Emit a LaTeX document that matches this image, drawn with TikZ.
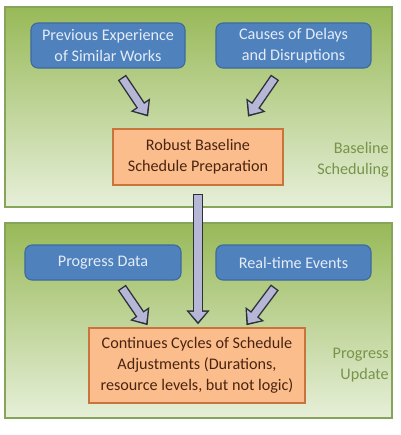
\documentclass[tikz,border=0pt]{standalone}
\usepackage{fontspec}
\setmainfont{Carlito}
\usetikzlibrary{arrows.meta}

\definecolor{paneltop}{HTML}{98B958}
\definecolor{panelmid}{HTML}{A8C46E}
\definecolor{panelbot}{HTML}{E6EFD8}
\definecolor{panelline}{HTML}{86A55A}
\definecolor{bluefill}{HTML}{4F81BD}
\definecolor{blueline}{HTML}{3E6A9E}
\definecolor{bluetext}{HTML}{E4ECF8}
\definecolor{orangefill}{HTML}{FBBD8C}
\definecolor{orangeline}{HTML}{C9743A}
\definecolor{orangetext}{HTML}{4A2410}
\definecolor{labeltext}{HTML}{76944A}
\definecolor{arrowfill}{HTML}{B6B6D6}
\definecolor{arrowline}{HTML}{2E3038}

\tikzset{
  panel/.style={draw=panelline, line width=1.1pt, top color=paneltop, middle color=panelmid, bottom color=panelbot},
  inbox/.style={draw=blueline, fill=bluefill, line width=0.8pt, rounded corners=5pt, text=bluetext, align=center, inner sep=0pt},
  workbox/.style={draw=orangeline, fill=orangefill, line width=1.1pt, text=orangetext, align=center, inner sep=0pt},
  phase/.style={text=labeltext, align=right, anchor=east, inner sep=0pt},
  arrowout/.style={draw=arrowline, line width=7pt, -{Triangle[length=10pt,width=16pt]}},
  arrowin/.style={draw=arrowfill, line width=5pt, -{Triangle[length=7.2pt,width=12pt]}},
}
\newcommand{\blockarr}[4]{%
  \draw[arrowout, shorten <=#3, shorten >=#4] #1 -- #2;
  \draw[arrowin, shorten <=#3+1pt, shorten >=#4+1.8pt] #1 -- #2;}

\begin{document}
\begin{tikzpicture}[x=0.025cm,y=-0.025cm,font=\fontsize{11.5}{15}\selectfont]
  \useasboundingbox (0,0) rectangle (401,435);

  % phase panels
  \draw[panel] (5,7) rectangle (392,207);
  \draw[panel] (5,223) rectangle (392,418);

  % baseline scheduling
  \node[inbox, minimum width=3.85cm, minimum height=1.125cm] (prev) at (108,45.5) {Previous Experience\\of Similar Works};
  \node[inbox, minimum width=3.875cm, minimum height=1.125cm] (delay) at (293.5,45.5) {Causes of Delays\\and Disruptions};
  \node[workbox, minimum width=4.25cm, minimum height=1.4cm] (base) at (198,157) {Robust Baseline\\Schedule Preparation};
  \node[phase] (basetext) at (389,160) {Baseline\\Scheduling};

  % progress update
  \node[inbox, minimum width=3.9cm, minimum height=0.875cm] (data) at (103,262.5) {Progress Data};
  \node[inbox, minimum width=3.875cm, minimum height=0.875cm] (events) at (293.5,262.5) {Real-time Events};
  \node[workbox, minimum width=5.4cm, minimum height=1.875cm] (adjust) at (197,365.5) {Continues Cycles of Schedule\\Adjustments (Durations,\\resource levels, but not logic)};
  \node[phase] (updtext) at (389,365) {Progress\\Update};

  % block arrows
  \blockarr{([xshift=0.2cm]prev.south)}{([xshift=-1.05cm]base.north)}{7.6pt}{10pt}
  \blockarr{([xshift=-0.31cm]delay.south)}{([xshift=1.05cm]base.north)}{7.6pt}{10pt}
  \blockarr{([xshift=0.35cm]data.south)}{([xshift=-1.2cm]adjust.north)}{6pt}{1.7pt}
  \blockarr{([xshift=-0.34cm]events.south)}{([xshift=1.2cm]adjust.north)}{6pt}{1.7pt}
  \blockarr{(base.south)}{(base.south |- adjust.north)}{5.7pt}{2pt}
\end{tikzpicture}
\end{document}
